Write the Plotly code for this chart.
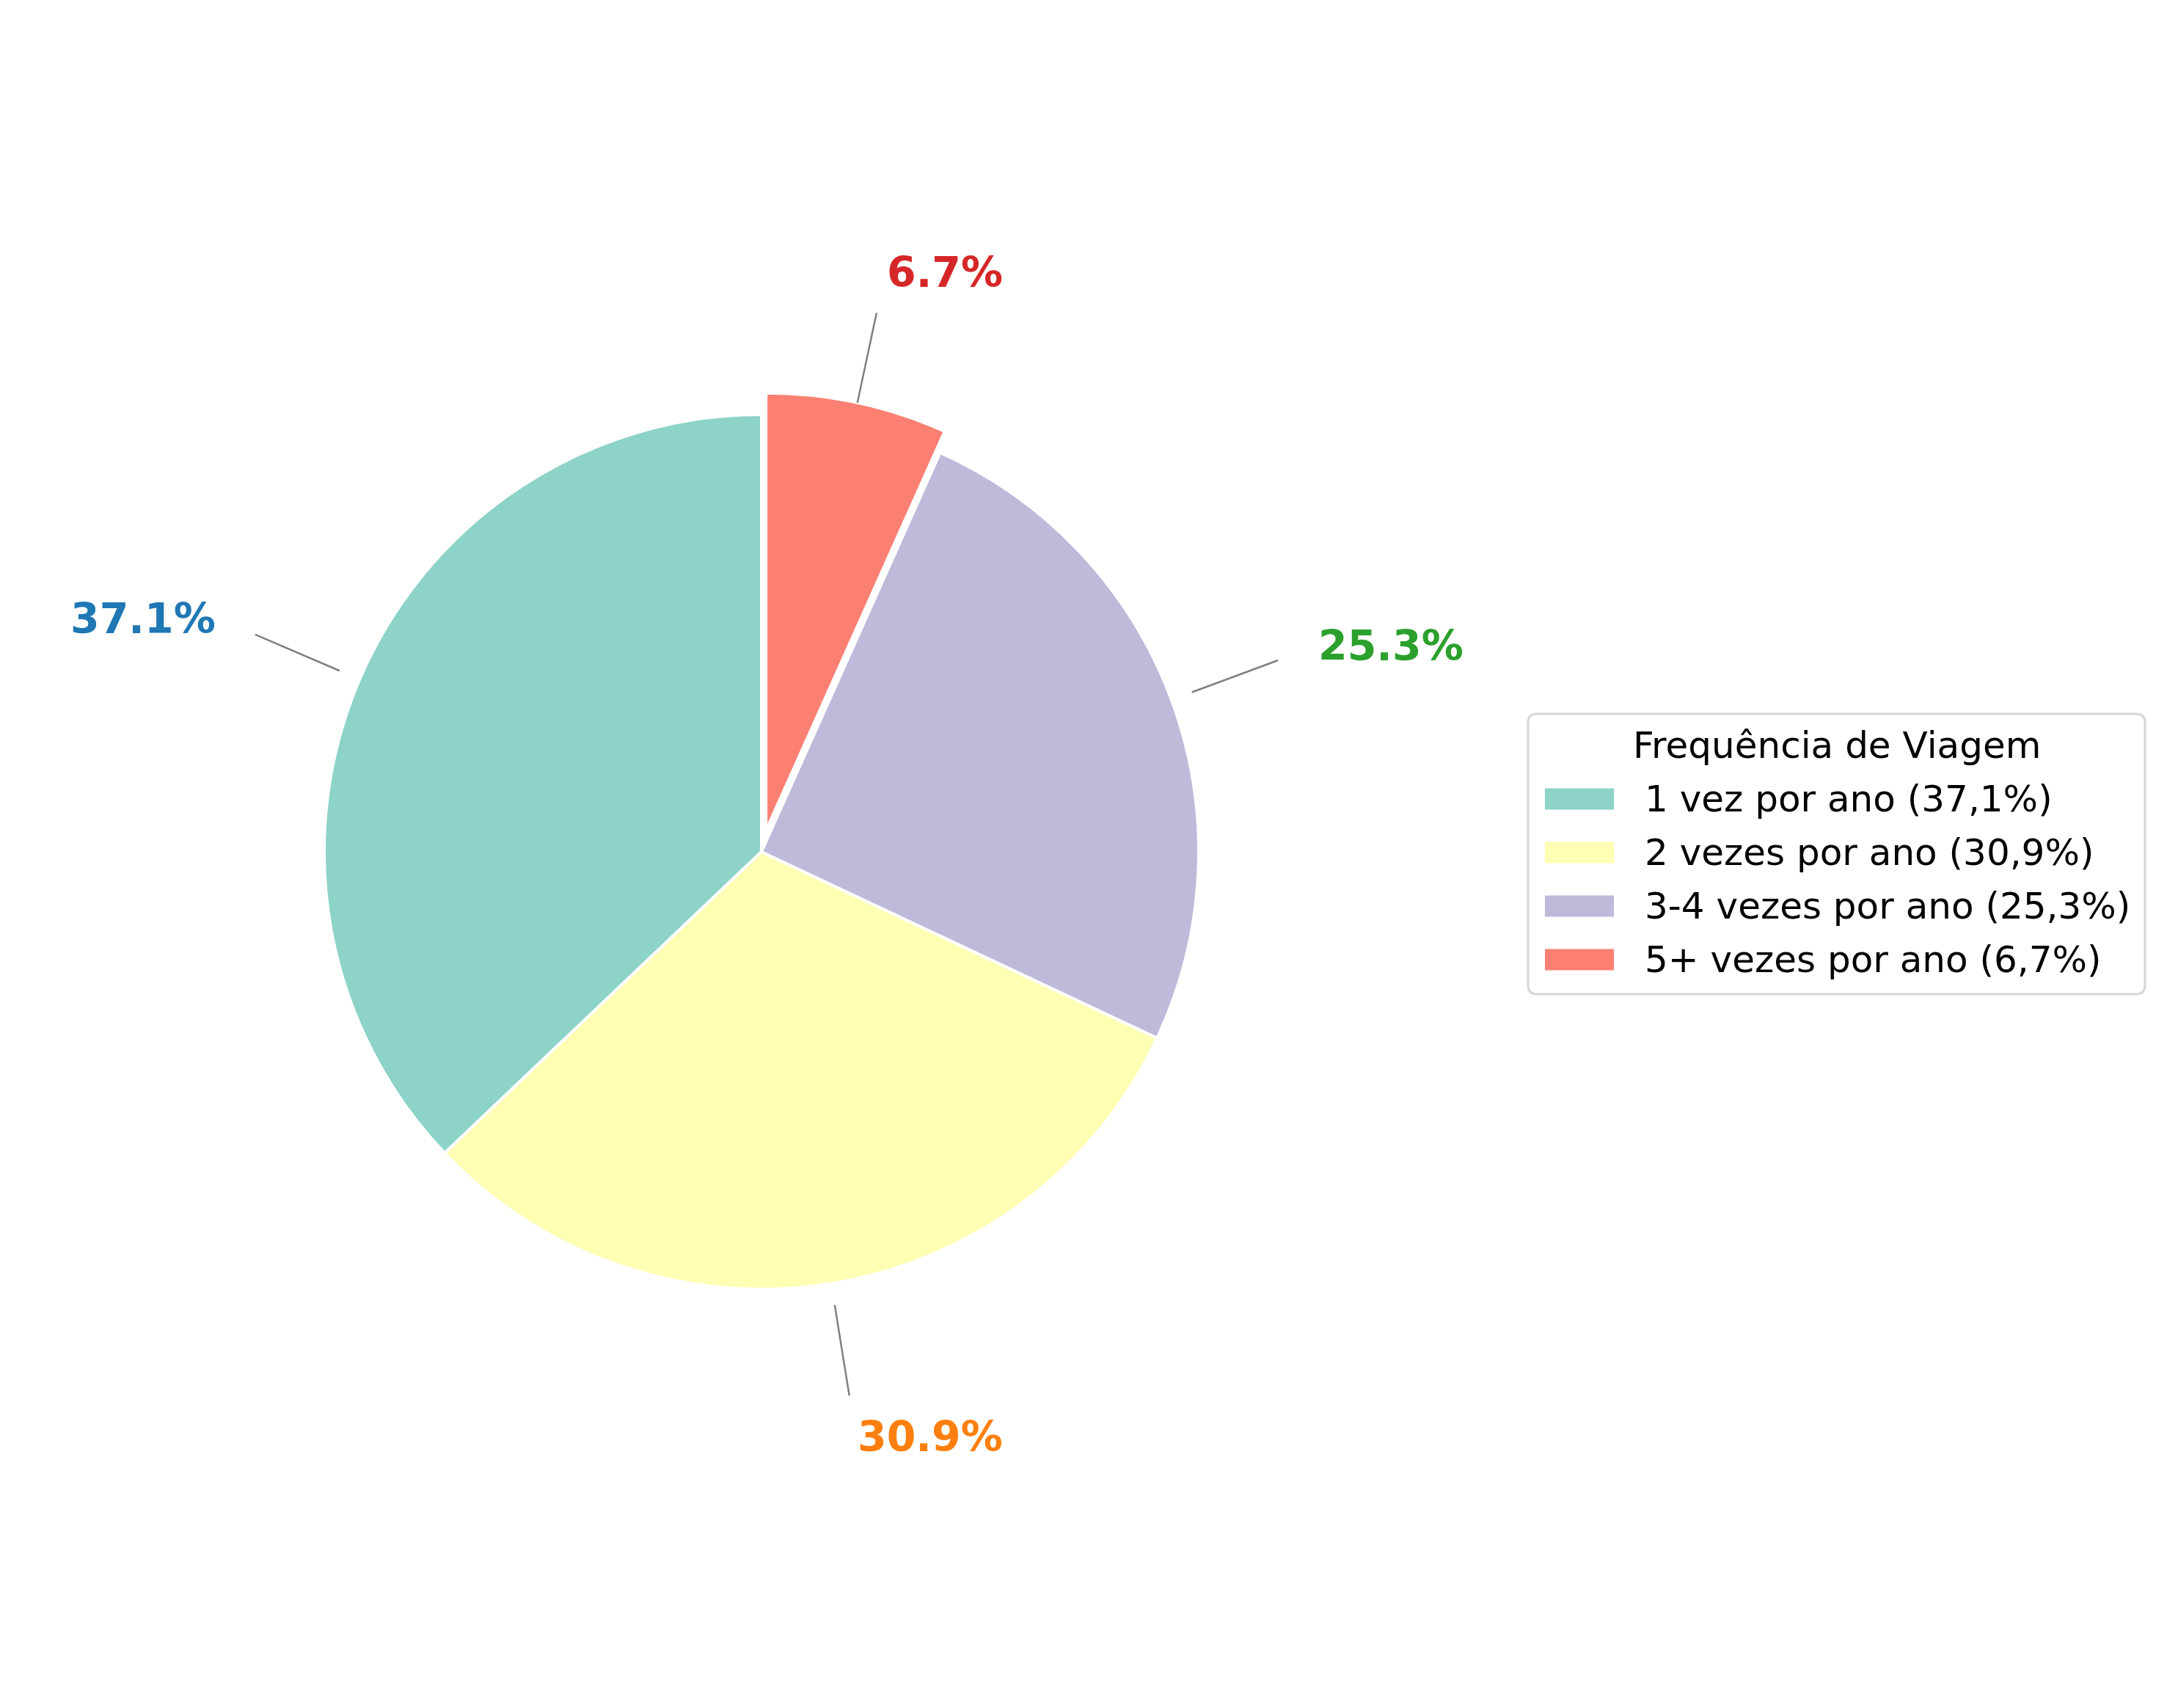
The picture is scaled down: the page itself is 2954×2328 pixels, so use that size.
import math
import plotly.graph_objects as go

# Data
categories = ['1 vez por ano', '2 vezes por ano', '3-4 vezes por ano', '5+ vezes por ano']
values = [37.1, 30.9, 25.3, 6.7]
pulls = [0, 0, 0, 0.05]
slice_colors = ['#8dd3c7', '#ffffb3', '#bebada', '#fb8072']
label_colors = ['#1f77b4', '#ff7f0e', '#2ca02c', '#d62728']
legend_title = 'Frequência de Viagem'

W, H = 2954, 2328
cx, cy, R = 1038, 1161, 596  # pie centre / radius in pixels
half = R * (1 + max(pulls))
total = sum(values)

legend_labels = [f"{c} ({str(v).replace('.', ',')}%)" for c, v in zip(categories, values)]

# plotly's counterclockwise pie ends the first slice at 12 o'clock,
# so rotate it back so it starts there (like matplotlib startangle=90)
fig = go.Figure(go.Pie(
    labels=legend_labels,
    values=values,
    sort=False,
    direction='counterclockwise',
    rotation=-360 * values[0] / total,
    pull=pulls,
    marker=dict(colors=slice_colors, line=dict(color='white', width=4)),
    textinfo='none',
    hoverinfo='label+percent',
    showlegend=False,
    domain=dict(x=[(cx - half) / W, (cx + half) / W],
                y=[1 - (cy + half) / H, 1 - (cy - half) / H]),
))

# outside labels with leader lines (pixel axes overlaying the page)
cum = 0
for v, col in zip(values, label_colors):
    ang = math.radians(90 + 360 * (cum + v / 2) / total)
    cum += v
    ca, sa = math.cos(ang), math.sin(ang)
    fig.add_shape(type='line', xref='x', yref='y',
                  x0=cx + 1.05 * R * ca, y0=cy - 1.05 * R * sa,
                  x1=cx + 1.26 * R * ca, y1=cy - 1.26 * R * sa,
                  line=dict(color='#808080', width=2.5))
    fig.add_annotation(x=cx + 1.355 * R * ca, y=cy - 1.355 * R * sa,
                       xref='x', yref='y',
                       text=f'<b>{v:.1f}%</b>', showarrow=False,
                       xanchor='left' if ca > 0 else 'right', yanchor='middle',
                       font=dict(size=57, color=col, family='DejaVu Sans'))

# legend box drawn by hand (matplotlib style: wide swatches, rounded frame)
lx0, ly0, lx1, ly1, rad = 2083, 973, 2924, 1355, 12
frame = (f'M {lx0 + rad},{ly0} L {lx1 - rad},{ly0} Q {lx1},{ly0} {lx1},{ly0 + rad} '
         f'L {lx1},{ly1 - rad} Q {lx1},{ly1} {lx1 - rad},{ly1} '
         f'L {lx0 + rad},{ly1} Q {lx0},{ly1} {lx0},{ly1 - rad} '
         f'L {lx0},{ly0 + rad} Q {lx0},{ly0} {lx0 + rad},{ly0} Z')
fig.add_shape(type='path', path=frame, xref='x', yref='y',
              fillcolor='white', line=dict(color='#d6d6d6', width=3), layer='below')
fig.add_annotation(x=(lx0 + lx1) / 2, y=1016, xref='x', yref='y',
                   text=legend_title, showarrow=False,
                   xanchor='center', yanchor='middle',
                   font=dict(size=50, color='black'))
row0, row_gap = 1089, 73
for i, (lab, col) in enumerate(zip(legend_labels, slice_colors)):
    yc = row0 + i * row_gap
    fig.add_shape(type='rect', xref='x', yref='y',
                  x0=2106, x1=2200, y0=yc - 14.5, y1=yc + 14.5,
                  fillcolor=col, line=dict(width=0))
    fig.add_annotation(x=2240, y=yc, xref='x', yref='y',
                       text=lab, showarrow=False,
                       xanchor='left', yanchor='middle',
                       font=dict(size=50, color='black'))

fig.update_layout(
    width=W, height=H,
    margin=dict(l=0, r=0, t=0, b=0),
    paper_bgcolor='white',
    plot_bgcolor='rgba(0,0,0,0)',
    font=dict(family='DejaVu Sans', size=50, color='black'),
    showlegend=False,
    xaxis=dict(range=[0, W], visible=False, fixedrange=True),
    yaxis=dict(range=[H, 0], visible=False, fixedrange=True),
)

# drop the default 8px body margin so the figure sits at the page origin
fig.write_html("out.html", config={'displayModeBar': False},
               post_script="document.body.style.margin='0';")
